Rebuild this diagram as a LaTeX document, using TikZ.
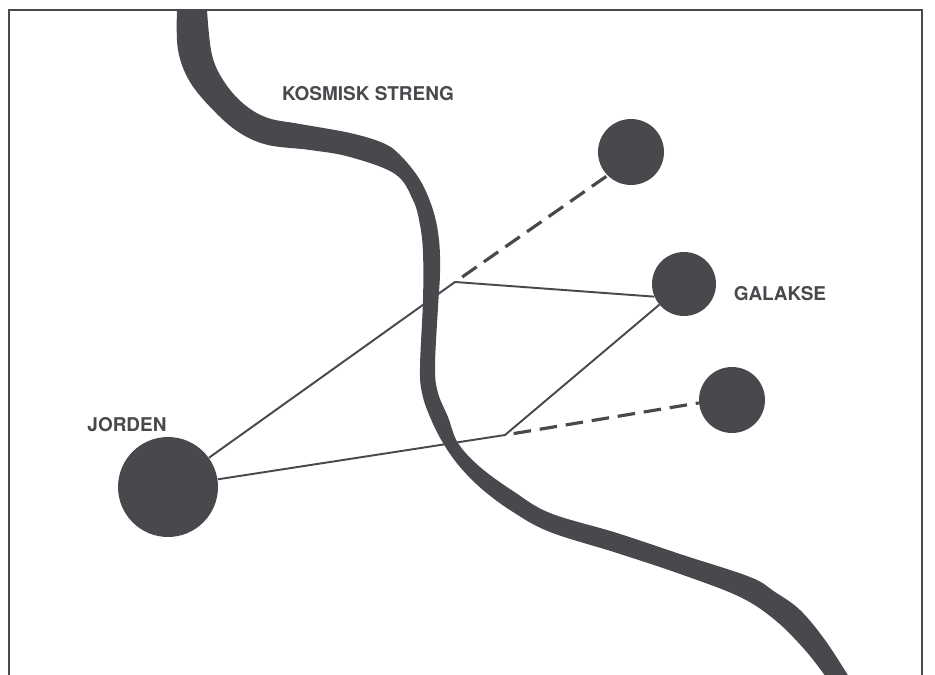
\documentclass[tikz,border=0pt]{standalone}
\usepackage{fontspec}
\setsansfont{TeX Gyre Heros}
\definecolor{ink}{RGB}{74,72,77}
\tikzset{
  body/.style={shape=circle, fill=ink, inner sep=0pt},
  lbl/.style={text=ink, font=\sffamily\bfseries\fontsize{10.8}{13}\selectfont},
  ray/.style={ink, line width=1.1pt, line join=round},
  farray/.style={ink, line width=1.8pt, dash pattern=on 10pt off 5pt, dash phase=10pt},
}

\begin{document}
\begin{tikzpicture}[x=0.02cm, y=-0.02cm]
\useasboundingbox (0,0) rectangle (935,675);
\draw[ink, line width=1.2pt] (9,675)--(9,10)--(922,10)--(922,675);
% the string
\fill[ink] plot[smooth, tension=0.6] coordinates {(177,10) (178,50) (190,82) (215,112) (240,133) (268,145) (310,150) (350,157) (395,174) (413,200) (420,225) (423,253) (423,300) (420,367) (422,393) (430,417) (443,443) (460,467) (483,490) (513,512) (550,532) (617,553) (683,575) (740,597) (775,620) (805,650) (826,677)}
  -- plot[smooth, tension=0.6] coordinates {(849,677) (825,640) (800,610) (775,592) (750,577) (683,555) (617,533) (550,513) (513,491) (480,467) (458,443) (448,417) (438,393) (435,367) (438,307) (440,273) (439,240) (433,210) (420,180) (400,155) (383,143) (350,133) (300,124) (268,118) (245,105) (225,83) (212,55) (207,10)} -- cycle;
\node[body, minimum size=2cm] (jord) at (168,487) {};
\node[body, minimum size=1.32cm] (gtop) at (631,152) {};
\node[body, minimum size=1.28cm] (gmid) at (684,284) {};
\node[body, minimum size=1.32cm] (gbot) at (732,400) {};
\coordinate (uk) at (455,282);
\coordinate (lk) at (505,435);
\draw[ray] (jord)--(uk)--(gmid.203);
\draw[ray] (jord)--(lk)--(gmid.220);
\draw[farray] (uk)--(gtop.225);
\draw[farray] (lk)--(gbot.185);
\node[lbl] (kos) at (368,94) {KOSMISK STRENG};
\node[lbl] (jlbl) at (127,425) {JORDEN};
\node[lbl] (glbl) at (780,294) {GALAKSE};
\end{tikzpicture}
\end{document}
